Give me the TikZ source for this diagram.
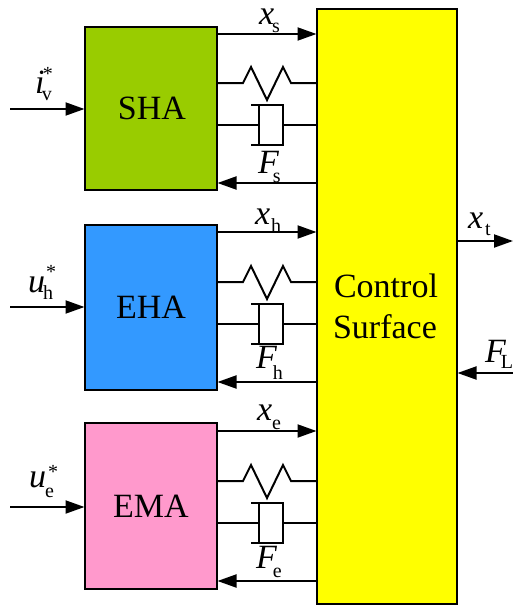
\documentclass[tikz,border=0pt]{standalone}
\usepackage{fontspec}
\setmainfont{Liberation Serif}
\usetikzlibrary{arrows.meta,calc}
\newcommand{\bigf}{\fontsize{34}{38}\selectfont}
\newcommand{\subf}{\fontsize{20}{22}\selectfont}
% symbol, kern before subscript, subscript, lowering
\newcommand{\lab}[4]{{\bigf\itshape #1}\kern#2pt\raisebox{-#4pt}{\subf #3}}
% symbol, kern, subscript, lowering, star shift, star raise
\newcommand{\labs}[6]{{\bigf\itshape #1}\kern#2pt\rlap{\raisebox{-#4pt}{\subf #3}}\kern#5pt\raisebox{#6pt}{\subf *}}
\tikzset{
  block/.style={draw=black,line width=2pt,minimum width=132pt,inner sep=0pt,outer sep=0pt,align=center,font=\bigf,text=black},
  sig/.style={line width=2pt,-{Triangle[length=19pt,width=13pt]},shorten >=0.5pt},
  wire/.style={line width=2pt,line join=miter},
  lbl/.style={inner sep=0pt,outer sep=0pt,anchor=base west,text=black},
}
\definecolor{shac}{RGB}{153,204,0}
\definecolor{ehac}{RGB}{51,153,255}
\definecolor{emac}{RGB}{255,153,204}
\definecolor{csc}{RGB}{255,255,0}
\newcommand{\unit}[5]{% #1 block, #2 xy, #3 spring y, #4 damper y, #5 force y
  \coordinate (#1x) at (0,#2);
  \coordinate (#1k) at (0,#3);
  \coordinate (#1d) at (0,#4);
  \coordinate (#1f) at (0,#5);
  \draw[sig] (#1.east |- #1x) -- (cs.west |- #1x);
  \draw[wire] (#1.east |- #1k) -- (243,#3) -- ++(8,-16) -- ++(16,33) -- ++(16,-33) -- ++(8,16) -- (cs.west |- #1k);
  \draw[wire] (#1.east |- #1d) -- (259,#4);
  \draw[wire] (251,#4-20) -- (283,#4-20) -- (283,#4+20) -- (251,#4+20);
  \draw[wire] (259,#4-20) -- (259,#4+20);
  \draw[wire] (283,#4) -- (cs.west |- #1d);
  \draw[sig] (cs.west |- #1f) -- (#1.east |- #1f);
}
\begin{document}
\begin{tikzpicture}[x=1pt,y=-1pt]
\useasboundingbox (0,0) rectangle (513,605);
\node[block,fill=csc,minimum width=140pt,minimum height=595pt] (cs) at (387,306.5) {};
\node[inner sep=0pt,anchor=base,font=\bigf] (cst1) at (386,297) {Control};
\node[inner sep=0pt,anchor=base,font=\bigf] (cst2) at (385,338) {Surface};
\node[block,fill=shac,minimum height=163pt] (sha) at (151,108.5) {\kern2pt SHA};
\node[block,fill=ehac,minimum height=165pt] (eha) at (151,307.5) {EHA};
\node[block,fill=emac,minimum height=166pt] (ema) at (151,506) {EMA};
\unit{sha}{34}{83}{125}{183}
\unit{eha}{232}{282}{324}{382}
\unit{ema}{431}{481}{523}{581}
\coordinate (ia) at (10,109);
\coordinate (ib) at (10,307);
\coordinate (ic) at (10,507);
\draw[sig] (ia) -- (sha.west |- ia);
\draw[sig] (ib) -- (eha.west |- ib);
\draw[sig] (ic) -- (ema.west |- ic);
\coordinate (xt) at (513.5,241);
\coordinate (fl) at (513,373);
\draw[sig] (cs.east |- xt) -- (xt);
\draw[sig] (fl) -- (cs.east |- fl);
\node[lbl] (lxs) at (259,24) {\lab{x}{-2}{s}{8}};
\node[lbl] (lfs) at (258,173) {\lab{F}{-5.8}{s}{9}};
\node[lbl] (lxh) at (255,224) {\lab{x}{1}{h}{8}};
\node[lbl] (lfh) at (256,368) {\lab{F}{-3.8}{h}{11}};
\node[lbl] (lxe) at (257,420) {\lab{x}{0}{e}{9}};
\node[lbl] (lfe) at (256,568) {\lab{F}{-3.8}{e}{9}};
\node[lbl] (lxt) at (468,228) {\lab{x}{2}{t}{7}};
\node[lbl] (lfl) at (485,362) {\lab{F}{-5}{L}{6}};
\node[lbl] (lis) at (35,93) {\labs{i}{-2.5}{v}{7}{1}{12.5}};
\node[lbl] (lus) at (28,292) {\labs{u}{-2}{h}{7}{3}{13.5}};
\node[lbl] (les) at (29,487) {\labs{u}{-1}{e}{10}{3}{8.5}};
\end{tikzpicture}
\end{document}
